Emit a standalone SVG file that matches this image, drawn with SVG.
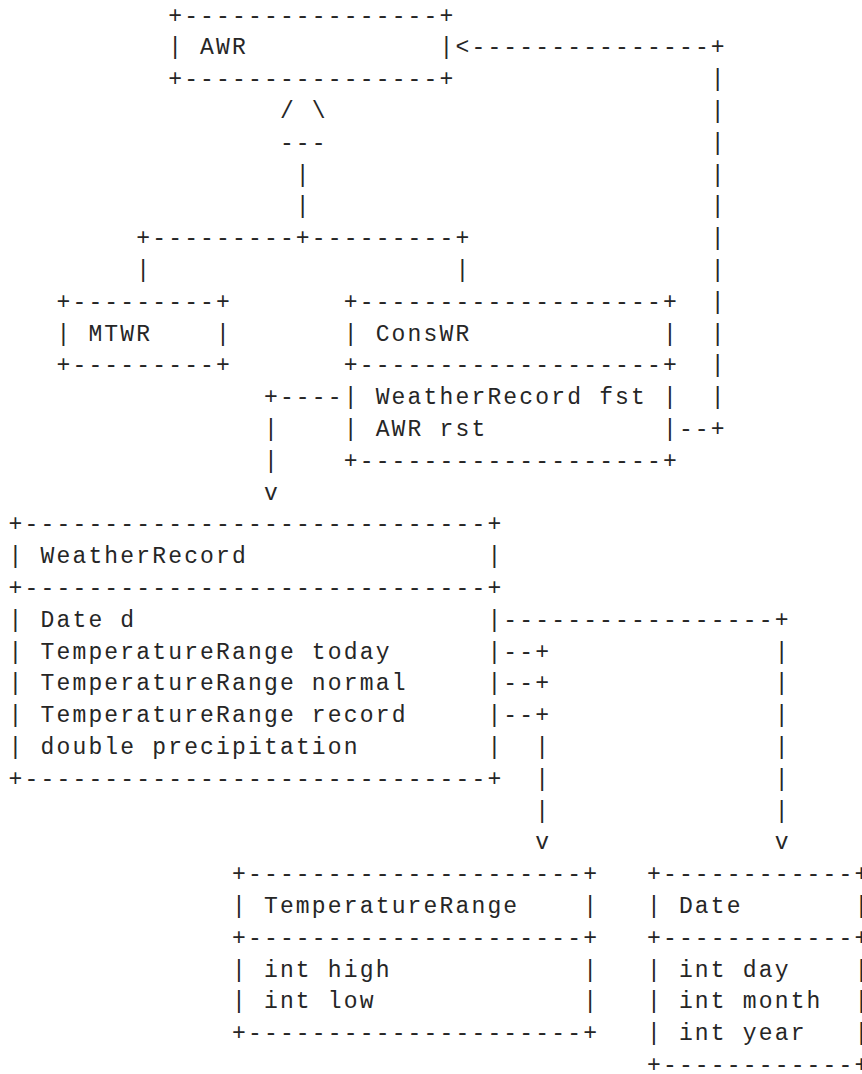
<svg xmlns="http://www.w3.org/2000/svg" width="862" height="1074" viewBox="0 0 862 1074" xml:space="preserve">
  <style>
    .t { font-family: "Liberation Mono", "Courier New", monospace; font-size: 23px; letter-spacing: 2.16px; white-space: pre; fill: #262626; }
  </style>
  <rect width="862" height="1074" fill="#ffffff"/>

  <!-- character grid: column c starts at x = 8.58 + 15.96*c, row r baseline at 22.6 + 31.8*(r-1) -->

  <g id="node-awr">
    <text class="t" x="168.18" y="22.6">+----------------+</text>
    <text class="t" x="168.18" y="54.4">| AWR            |</text>
    <text class="t" x="168.18" y="86.2">+----------------+</text>
  </g>

  <g id="node-mtwr">
    <text class="t" x="56.46" y="308.8">+---------+</text>
    <text class="t" x="56.46" y="340.6">| MTWR    |</text>
    <text class="t" x="56.46" y="372.4">+---------+</text>
  </g>

  <g id="node-conswr">
    <text class="t" x="343.74" y="308.8">+-------------------+</text>
    <text class="t" x="343.74" y="340.6">| ConsWR            |</text>
    <text class="t" x="343.74" y="372.4">+-------------------+</text>
    <text class="t" x="343.74" y="404.2">| WeatherRecord fst |</text>
    <text class="t" x="343.74" y="436">| AWR rst           |</text>
    <text class="t" x="343.74" y="467.8">+-------------------+</text>
  </g>

  <g id="node-weatherrecord">
    <text class="t" x="8.58" y="531.4">+-----------------------------+</text>
    <text class="t" x="8.58" y="563.2">| WeatherRecord               |</text>
    <text class="t" x="8.58" y="595">+-----------------------------+</text>
    <text class="t" x="8.58" y="626.8">| Date d                      |</text>
    <text class="t" x="8.58" y="658.6">| TemperatureRange today      |</text>
    <text class="t" x="8.58" y="690.4">| TemperatureRange normal     |</text>
    <text class="t" x="8.58" y="722.2">| TemperatureRange record     |</text>
    <text class="t" x="8.58" y="754">| double precipitation        |</text>
    <text class="t" x="8.58" y="785.8">+-----------------------------+</text>
  </g>

  <g id="node-temperaturerange">
    <text class="t" x="232.02" y="881.2">+---------------------+</text>
    <text class="t" x="232.02" y="913">| TemperatureRange    |</text>
    <text class="t" x="232.02" y="944.8">+---------------------+</text>
    <text class="t" x="232.02" y="976.6">| int high            |</text>
    <text class="t" x="232.02" y="1008.4">| int low             |</text>
    <text class="t" x="232.02" y="1040.2">+---------------------+</text>
  </g>

  <g id="node-date">
    <text class="t" x="646.98" y="881.2">+------------+</text>
    <text class="t" x="646.98" y="913">| Date       |</text>
    <text class="t" x="646.98" y="944.8">+------------+</text>
    <text class="t" x="646.98" y="976.6">| int day    |</text>
    <text class="t" x="646.98" y="1008.4">| int month  |</text>
    <text class="t" x="646.98" y="1040.2">| int year   |</text>
    <text class="t" x="646.98" y="1072">+------------+</text>
  </g>

  <g id="connectors">
    <!-- inheritance: MTWR and ConsWR extend AWR -->
    <text class="t">
      <tspan x="279.9" y="118">/ \</tspan>
      <tspan x="279.9" y="149.8">---</tspan>
      <tspan x="295.86" y="181.6">|</tspan>
      <tspan x="295.86" y="213.4">|</tspan>
      <tspan x="136.26" y="245.2">+---------+---------+</tspan>
      <tspan x="136.26" y="277">|</tspan>
      <tspan x="455.46" y="277">|</tspan>
    </text>
    <!-- ConsWR.rst refers back to AWR -->
    <text class="t">
      <tspan x="455.46" y="54.4">&lt;---------------+</tspan>
      <tspan x="710.82" y="86.2">|</tspan>
      <tspan x="710.82" y="118">|</tspan>
      <tspan x="710.82" y="149.8">|</tspan>
      <tspan x="710.82" y="181.6">|</tspan>
      <tspan x="710.82" y="213.4">|</tspan>
      <tspan x="710.82" y="245.2">|</tspan>
      <tspan x="710.82" y="277">|</tspan>
      <tspan x="710.82" y="308.8">|</tspan>
      <tspan x="710.82" y="340.6">|</tspan>
      <tspan x="710.82" y="372.4">|</tspan>
      <tspan x="710.82" y="404.2">|</tspan>
      <tspan x="678.9" y="436">--+</tspan>
    </text>
    <!-- ConsWR.fst refers to WeatherRecord -->
    <text class="t">
      <tspan x="263.94" y="404.2">+----</tspan>
      <tspan x="263.94" y="436">|</tspan>
      <tspan x="263.94" y="467.8">|</tspan>
      <tspan x="263.94" y="499.6">v</tspan>
    </text>
    <!-- WeatherRecord.d refers to Date -->
    <text class="t">
      <tspan x="503.34" y="626.8">-----------------+</tspan>
      <tspan x="774.66" y="658.6">|</tspan>
      <tspan x="774.66" y="690.4">|</tspan>
      <tspan x="774.66" y="722.2">|</tspan>
      <tspan x="774.66" y="754">|</tspan>
      <tspan x="774.66" y="785.8">|</tspan>
      <tspan x="774.66" y="817.6">|</tspan>
      <tspan x="774.66" y="849.4">v</tspan>
    </text>
    <!-- today / normal / record refer to TemperatureRange -->
    <text class="t">
      <tspan x="503.34" y="658.6">--+</tspan>
      <tspan x="503.34" y="690.4">--+</tspan>
      <tspan x="503.34" y="722.2">--+</tspan>
      <tspan x="535.26" y="754">|</tspan>
      <tspan x="535.26" y="785.8">|</tspan>
      <tspan x="535.26" y="817.6">|</tspan>
      <tspan x="535.26" y="849.4">v</tspan>
    </text>
  </g>
</svg>
